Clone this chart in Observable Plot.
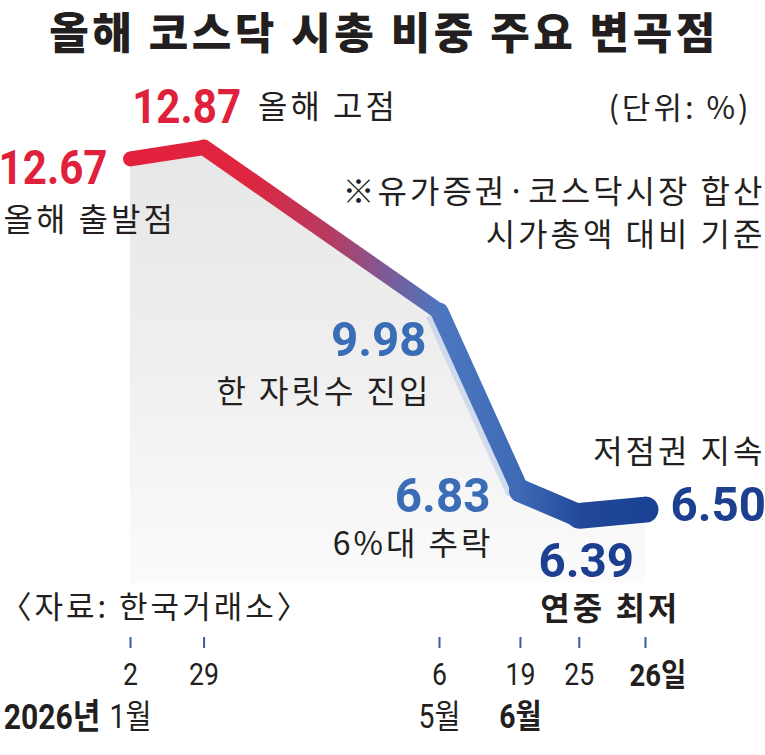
<!DOCTYPE html>
<html><head><meta charset="utf-8">
<script src="https://cdn.jsdelivr.net/npm/d3@7"></script>
<script src="https://cdn.jsdelivr.net/npm/@observablehq/plot@0.6"></script>
<style>
body{margin:0;background:#fff;width:765px;height:755px;overflow:hidden;font-family:"Noto Sans CJK KR",sans-serif;}
#title{height:62px;line-height:60px;font-size:43px;font-weight:900;text-align:center;color:#231f20;letter-spacing:3.5px;padding-left:3px;}
#chart svg{display:block;}
.kr text{letter-spacing:3px;}
</style></head><body>
<div id="title">올해 코스닥 시총 비중 주요 변곡점</div>
<div id="chart"></div>
<script>
// ---- data ----
const dates = ["2026-01-02", "2026-01-29", "2026-05-06", "2026-06-19", "2026-06-25", "2026-06-26"];
const shares = [12.67, 12.87, 9.98, 6.83, 6.39, 6.50];          // % of combined market cap
const axisSlot = [0, 1, 4.2, 5.3, 6.1, 7];                      // illustrative (non-linear) axis spacing
const dayLabels = ["2", "29", "6", "19", "25", "26일"];
const monthLabels = ["1월", "", "5월", "6월", "", ""];
const yearLabel = "2026년";
const notes = ["올해 출발점", "올해 고점", "한 자릿수 진입", "6%대 추락", "연중 최저", "저점권 지속"];
const unitText = "(단위: %)";
const footnote = ["※유가증권·코스닥시장 합산", "시가총액 대비 기준"];
const sourceText = "〈자료: 한국거래소〉";

// ---- styles ----
const RED = "#e0213c", BLUE = "#3b6db6", NAVY = "#1c3f8f", INK = "#231f20";
const NUM = "Roboto,'Noto Sans CJK KR',sans-serif";
const KR = "'Noto Sans CJK KR',sans-serif";
const segmentWidths = [15, 16, 18, 23, 26];

const data = dates.map((d, i) => ({date: d, slot: axisSlot[i], share: shares[i], day: dayLabels[i], month: monthLabels[i], note: notes[i]}));
const segs = data.slice(1).map((d, i) => ({x1: data[i].slot, y1: data[i].share, x2: d.slot, y2: d.share, w: segmentWidths[i]}));
const yMin = 5.2;

const num = (i, color, o) => Plot.text([data[i]], {x: "slot", y: "share", text: d => d.share.toFixed(2), fill: color,
  fontFamily: NUM, fontWeight: "bold", fontSize: 49, lineAnchor: "middle",
  className: data[i].share >= 10 ? "narrow" : "narrow-wide", ...o});
const note = (i, o) => Plot.text([data[i]], {x: "slot", y: "share", text: "note", fill: INK,
  fontFamily: KR, fontSize: 32, lineAnchor: "middle", className: "kr", ...o});
const kr = (t, o) => Plot.text([t], {fontFamily: KR, fontSize: 32, fill: INK, lineAnchor: "middle", className: "kr", ...o});

const chart = Plot.plot({
  width: 765, height: 693,
  marginTop: 85, marginBottom: 172, marginLeft: 130, marginRight: 120,
  x: {domain: [0, 7], axis: null},
  y: {domain: [yMin, 12.87], axis: null},
  style: {background: "transparent", overflow: "visible"},
  marks: [
    Plot.areaY(data, {x: "slot", y1: yMin, y2: "share", fill: "url(#areaGrad)"}),
    Plot.link(segs.slice(2, 3), {x1: "x1", y1: "y1", x2: "x2", y2: "y2", stroke: "#b9cbe9", strokeWidth: 12, opacity: 0.6, dx: -8, dy: 3}),
    Plot.link(segs, {x1: "x1", y1: "y1", x2: "x2", y2: "y2", stroke: "url(#lineGrad)", strokeWidth: "w", strokeLinecap: "round"}),
    num(0, RED, {textAnchor: "end", dx: -23, dy: 9}),
    note(0, {textAnchor: "start", dx: -127, dy: 62}),
    num(1, RED, {textAnchor: "end", dx: 37, dy: -40}),
    note(1, {textAnchor: "start", dx: 54, dy: -40}),
    num(2, BLUE, {textAnchor: "end", dx: -13, dy: 29}),
    note(2, {textAnchor: "end", dx: -8, dy: 81}),
    num(3, BLUE, {textAnchor: "end", dx: -30, dy: 5}),
    note(3, {textAnchor: "end", dx: -27, dy: 54}),
    num(4, NAVY, {textAnchor: "middle", dx: 7, dy: 45}),
    note(4, {textAnchor: "start", dx: -39, dy: 94, fontWeight: "bold"}),
    num(5, NAVY, {textAnchor: "start", dx: 25, dy: -4}),
    note(5, {textAnchor: "end", dx: 120, dy: -57}),
    kr(unitText, {frameAnchor: "top-right", dx: 106, dy: -38, fontSize: 31, textAnchor: "end"}),
    kr(footnote[0], {frameAnchor: "top-right", dx: 120, dy: 45, textAnchor: "end"}),
    kr(footnote[1], {frameAnchor: "top-right", dx: 120, dy: 88, textAnchor: "end"}),
    kr(sourceText, {frameAnchor: "bottom-left", dx: -130, dy: 25, fontSize: 31, textAnchor: "start"}),
    Plot.axisX(axisSlot, {anchor: "bottom", tickSize: 11, dy: 54, tickFormat: () => "", stroke: "#3a5ca6", strokeWidth: 2}),
    Plot.text(data.slice(0, 5), {x: "slot", text: "day", frameAnchor: "bottom", dy: 92, fontFamily: NUM, fontSize: 31, fill: INK, lineAnchor: "middle", className: "narrow"}),
    Plot.text(data.slice(5), {x: "slot", text: "day", frameAnchor: "bottom", dy: 92, dx: -16, textAnchor: "start", fontFamily: NUM, fontWeight: "bold", fontSize: 32, fill: INK, lineAnchor: "middle", className: "narrow"}),
    Plot.text([data[0]], {x: "slot", text: () => yearLabel, frameAnchor: "bottom", dy: 134, dx: -30, textAnchor: "end", fontFamily: NUM, fontWeight: "bold", fontSize: 35, fill: INK, lineAnchor: "middle", className: "narrow"}),
    Plot.text(data.filter(d => d.month && d.month !== "6월"), {x: "slot", text: "month", frameAnchor: "bottom", dy: 134, fontFamily: NUM, fontSize: 33, fill: INK, lineAnchor: "middle", className: "narrow"}),
    Plot.text(data.filter(d => d.month === "6월"), {x: "slot", text: "month", frameAnchor: "bottom", dy: 134, fontFamily: NUM, fontWeight: "bold", fontSize: 33, fill: INK, lineAnchor: "middle", className: "narrow"})
  ]
});

// condensed look for numerals: compress horizontally around each text's anchor
function squeeze(sel, k) {
  d3.select(chart).selectAll(sel).each(function() {
    const t = d3.select(this);
    let tr = t.attr("transform");
    if (!tr) {
      const x = +t.attr("x") || 0, y = +t.attr("y") || 0;
      t.attr("x", null).attr("y", null);
      tr = `translate(${x},${y})`;
    }
    t.attr("transform", tr + ` scale(${k},1)`);
  });
}
squeeze(".narrow text", 0.86);
squeeze(".narrow-wide text", 0.97);

// gradients defined from the scales
const xs = chart.scale("x");
const x0 = xs.apply(axisSlot[0]), x1 = xs.apply(axisSlot[axisSlot.length - 1]);
const defs = d3.select(chart).insert("defs", ":first-child");
const lg = defs.append("linearGradient").attr("id", "lineGrad").attr("gradientUnits", "userSpaceOnUse")
  .attr("x1", x0).attr("x2", x1).attr("y1", 0).attr("y2", 0);
[[0, "#e3203d"], [0.22, "#e0253f"], [0.38, "#b93a5f"], [0.50, "#7b5b98"], [0.60, "#4c77c0"], [0.75, "#3f6bb6"], [0.88, "#22479a"], [1, "#1b4294"]]
  .forEach(([o, c]) => lg.append("stop").attr("offset", o).attr("stop-color", c));
const ag = defs.append("linearGradient").attr("id", "areaGrad").attr("x1", 0).attr("x2", 0).attr("y1", 0).attr("y2", 1);
[[0, "#e7e7e7"], [0.5, "#efefef"], [1, "#fbfbfb"]].forEach(([o, c]) => ag.append("stop").attr("offset", o).attr("stop-color", c));

document.getElementById("chart").appendChild(chart);
</script>
</body></html>
